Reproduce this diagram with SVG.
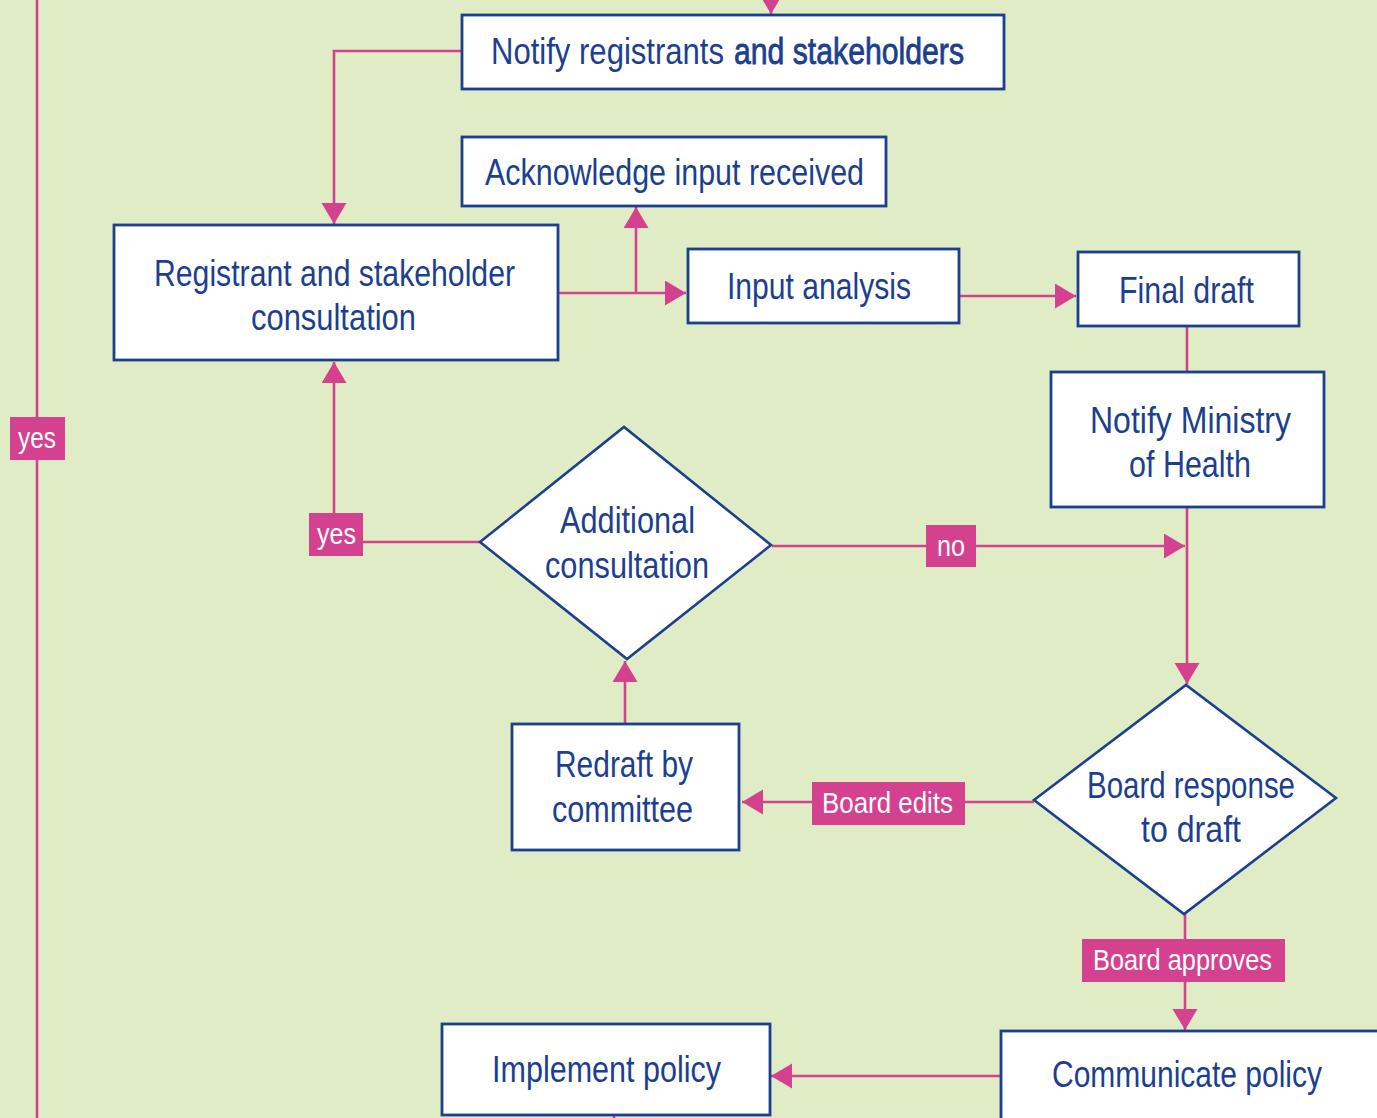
<svg xmlns="http://www.w3.org/2000/svg" width="1377" height="1118" viewBox="0 0 1377 1118">
<defs>
<style>
.box{fill:#ffffff;stroke:#1c3f8f;stroke-width:2.8}
.dia{fill:#ffffff;stroke:#1c3f8f;stroke-width:2.6;stroke-linejoin:miter}
.t{font-family:"Liberation Sans",Arial,sans-serif;font-size:36px;fill:#1c3f8f}
.b{stroke:#1c3f8f;stroke-width:0.8}
.c{fill:none;stroke:#d4428f;stroke-width:2.6}
.lb{fill:#d4428f}
.lt{font-family:"Liberation Sans",Arial,sans-serif;font-size:30px;fill:#ffffff}
</style>
<marker id="ah" markerUnits="userSpaceOnUse" markerWidth="22" markerHeight="26" refX="21" refY="12.5" orient="auto" viewBox="0 0 22 26">
<path d="M0,0 L21,12.5 L0,25 z" fill="#d4428f"/>
</marker>
</defs>
<rect x="0" y="0" width="1377" height="1118" fill="#e0ecc5"/>

<g id="connectors">
<path class="c" d="M37,0 V1118"/>
<path class="c" d="M771,-12 V14" marker-end="url(#ah)"/>
<path class="c" d="M461,51 H334 V224" marker-end="url(#ah)"/>
<path class="c" d="M559,293 H686" marker-end="url(#ah)"/>
<path class="c" d="M636,293 V207" marker-end="url(#ah)"/>
<path class="c" d="M960,296 H1076" marker-end="url(#ah)"/>
<path class="c" d="M1187,327 V372"/>
<path class="c" d="M1187,508 V684" marker-end="url(#ah)"/>
<path class="c" d="M772,546 H1185" marker-end="url(#ah)"/>
<path class="c" d="M480,542 H334 V362" marker-end="url(#ah)"/>
<path class="c" d="M625,724 V661" marker-end="url(#ah)"/>
<path class="c" d="M1034,802 H742" marker-end="url(#ah)"/>
<path class="c" d="M1185,914 V1030" marker-end="url(#ah)"/>
<path class="c" d="M1000,1076 H771" marker-end="url(#ah)"/>
<path class="c" d="M614,1116 V1118"/>
<g id="label-yes-left">
<rect class="lb" x="10" y="417" width="55" height="43"/>
<text class="lt" x="18" y="448" textLength="38" lengthAdjust="spacingAndGlyphs">yes</text>
</g>
<g id="label-yes">
<rect class="lb" x="309" y="513" width="54" height="43"/>
<text class="lt" x="317" y="544" textLength="39" lengthAdjust="spacingAndGlyphs">yes</text>
</g>
<g id="label-no">
<rect class="lb" x="926" y="525" width="50" height="42"/>
<text class="lt" x="937" y="556" textLength="28" lengthAdjust="spacingAndGlyphs">no</text>
</g>
<g id="label-board-edits">
<rect class="lb" x="812" y="782" width="153" height="43"/>
<text class="lt" x="822" y="813" textLength="131" lengthAdjust="spacingAndGlyphs">Board edits</text>
</g>
<g id="label-board-approves">
<rect class="lb" x="1082" y="939" width="203" height="43"/>
<text class="lt" x="1093" y="970" textLength="179" lengthAdjust="spacingAndGlyphs">Board approves</text>
</g>
</g>

<g id="notify-registrants">
<rect class="box" x="462" y="15" width="542" height="74"/>
<text class="t" y="64"><tspan x="491" textLength="233" lengthAdjust="spacingAndGlyphs">Notify registrants</tspan> <tspan x="734" class="b" textLength="230" lengthAdjust="spacingAndGlyphs">and stakeholders</tspan></text>
</g>
<g id="acknowledge">
<rect class="box" x="462" y="137" width="424" height="69"/>
<text class="t" x="485" y="185" textLength="379" lengthAdjust="spacingAndGlyphs">Acknowledge input received</text>
</g>
<g id="consultation">
<rect class="box" x="114" y="225" width="444" height="135"/>
<text class="t" x="154" y="286" textLength="361" lengthAdjust="spacingAndGlyphs">Registrant and stakeholder</text>
<text class="t" x="251" y="330" textLength="165" lengthAdjust="spacingAndGlyphs">consultation</text>
</g>
<g id="input-analysis">
<rect class="box" x="688" y="249" width="271" height="74"/>
<text class="t" x="727" y="299" textLength="184" lengthAdjust="spacingAndGlyphs">Input analysis</text>
</g>
<g id="final-draft">
<rect class="box" x="1078" y="252" width="221" height="74"/>
<text class="t" x="1119" y="303" textLength="135" lengthAdjust="spacingAndGlyphs">Final draft</text>
</g>
<g id="notify-ministry">
<rect class="box" x="1051" y="372" width="273" height="135"/>
<text class="t" x="1090" y="433" textLength="201" lengthAdjust="spacingAndGlyphs">Notify Ministry</text>
<text class="t" x="1129" y="477" textLength="122" lengthAdjust="spacingAndGlyphs">of Health</text>
</g>
<g id="additional-consultation">
<polygon class="dia" points="480,542 624,427 771,545 627,659"/>
<text class="t" x="560" y="533" textLength="135" lengthAdjust="spacingAndGlyphs">Additional</text>
<text class="t" x="545" y="578" textLength="164" lengthAdjust="spacingAndGlyphs">consultation</text>
</g>
<g id="redraft">
<rect class="box" x="512" y="724" width="227" height="126"/>
<text class="t" x="555" y="777" textLength="138" lengthAdjust="spacingAndGlyphs">Redraft by</text>
<text class="t" x="552" y="822" textLength="141" lengthAdjust="spacingAndGlyphs">committee</text>
</g>
<g id="board-response">
<polygon class="dia" points="1034,800 1186,685 1336,798 1184,914"/>
<text class="t" x="1087" y="798" textLength="208" lengthAdjust="spacingAndGlyphs">Board response</text>
<text class="t" x="1141" y="842" textLength="100" lengthAdjust="spacingAndGlyphs">to draft</text>
</g>
<g id="communicate-policy">
<rect class="box" x="1001" y="1031" width="400" height="110"/>
<text class="t" x="1052" y="1087" textLength="270" lengthAdjust="spacingAndGlyphs">Communicate policy</text>
</g>
<g id="implement-policy">
<rect class="box" x="442" y="1024" width="328" height="91"/>
<text class="t" x="492" y="1082" textLength="229" lengthAdjust="spacingAndGlyphs">Implement policy</text>
</g>
</svg>
